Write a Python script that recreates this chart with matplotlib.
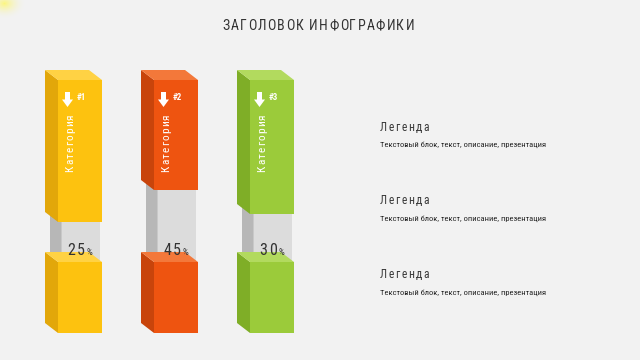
import matplotlib.pyplot as plt
from matplotlib.patches import Polygon
from matplotlib import font_manager
import numpy as np

# --- data ---
title = 'ЗАГОЛОВОК ИНФОГРАФИКИ'
categories = ['Категория', 'Категория', 'Категория']
tags = ['#1', '#2', '#3']
values = [25, 45, 30]
legend_titles = ['Легенда', 'Легенда', 'Легенда']
legend_texts = ['Текстовый блок, текст, описание, презентация'] * 3

front_cols = ['#FDC20F', '#EE5410', '#9BCB3A']
side_cols = ['#E2A70A', '#C8440B', '#7FAE27']
top_cols = ['#FFD244', '#F3783A', '#B2DA5E']
gray_front = '#DCDCDC'
gray_side = '#B7B7B7'
bg = '#F2F2F2'

names = {f.name for f in font_manager.fontManager.ttflist}
family = next((n for n in ['Roboto Condensed', 'Liberation Sans Narrow', 'Open Sans Condensed']
               if n in names), 'Roboto')

fig = plt.figure(figsize=(6.4, 3.6), dpi=100)
fig.patch.set_facecolor(bg)
ax = fig.add_axes([0, 0, 1, 1])
ax.set_xlim(0, 640)
ax.set_ylim(360, 0)
ax.axis('off')


def advances(s, size, weight='normal'):
    # glyph advances in pixels (1 axis unit = 1 px)
    fp = font_manager.FontProperties(family=family, weight=weight)
    font = font_manager.get_font(font_manager.findfont(fp))
    font.set_size(size, 72)
    out = []
    for ch in s:
        g = font.load_char(ord(ch))
        out.append(g.linearHoriAdvance / 65536 * 100 / 72)
    return out


def spaced(x, y, s, size, color, width=None, track=0.0, ha='center', rot=False, weight='normal'):
    adv = advances(s, size, weight)
    if width is not None and len(s) > 1:
        track = (width - sum(adv)) / (len(s) - 1)
    total = sum(adv) + track * (len(s) - 1)
    pos = -total / 2 if ha == 'center' else 0.0
    for ch, a in zip(s, adv):
        if rot:
            ax.text(x, y - pos, ch, rotation=90, rotation_mode='anchor', ha='left',
                    va='baseline', fontsize=size, color=color, family=family, weight=weight,
                    zorder=4)
        else:
            ax.text(x + pos, y, ch, ha='left', va='baseline', fontsize=size,
                    color=color, family=family, weight=weight, zorder=4)
        pos += a + track
    return total


def box(x0, x1, ytop, ybot, dx, dy, fc, sc, tc, z):
    ax.add_patch(Polygon([(x0, ytop), (x0 - dx, ytop - dy), (x0 - dx, ybot - dy), (x0, ybot)],
                         closed=True, fc=sc, ec='none', zorder=z))
    ax.add_patch(Polygon([(x0, ytop), (x1, ytop), (x1 - dx, ytop - dy), (x0 - dx, ytop - dy)],
                         closed=True, fc=tc, ec='none', zorder=z))
    ax.add_patch(Polygon([(x0, ytop), (x1, ytop), (x1, ybot), (x0, ybot)],
                         closed=True, fc=fc, ec='none', zorder=z))


# faint yellow glow in the corner
yy, xx = np.mgrid[0:24, 0:34]
r = np.sqrt(((xx - 4) / 22.0) ** 2 + ((yy - 3) / 16.0) ** 2)
glow = np.zeros((24, 34, 4))
glow[..., 0] = 1.0
glow[..., 1] = 0.97
glow[..., 2] = 0.35
glow[..., 3] = np.clip(1 - r, 0, 1) ** 2 * 0.75
ax.imshow(glow, extent=[0, 34, 24, 0], zorder=0, interpolation='bilinear')
ax.set_xlim(0, 640)
ax.set_ylim(360, 0)
ax.set_aspect('auto')

# title
spaced(318, 30.5, title, 10, '#333333', width=192)

# columns
top_y, lower_top, bottom = 80, 262, 333
dx, dy = 13, 10
for i, (cat, tag, v) in enumerate(zip(categories, tags, values)):
    x0 = 58 + 96 * i
    x1 = x0 + 44
    upper_bot = lower_top - 1.6 * v
    # gray middle part
    box(x0 + 3.7, x0 + 42, upper_bot - 12, lower_top, 11.7, dy, gray_front, gray_side, gray_front, 2)
    box(x0, x1, top_y, upper_bot, dx, dy, front_cols[i], side_cols[i], top_cols[i], 3)
    box(x0, x1, lower_top, bottom, dx, dy, front_cols[i], side_cols[i], top_cols[i], 3)

    # arrow icon + tag
    cx = x0 + 9.5
    ax.add_patch(Polygon([(cx - 2.5, 92), (cx + 2.5, 92), (cx + 2.5, 99.5), (cx + 5.5, 99.5),
                          (cx, 107), (cx - 5.5, 99.5), (cx - 2.5, 99.5)],
                         closed=True, fc='white', ec='none', zorder=4))
    ax.text(x0 + 19, 99.5, tag, fontsize=6.5, color='white', weight='bold',
            family=family, ha='left', va='baseline', zorder=4)

    # rotated category label
    spaced(x0 + 15.5, 172, cat, 8.2, 'white', width=58, ha='left', rot=True)

    # percentage label
    dsize, psize, trk = 11.5, 6.5, 1.8
    dig = str(v)
    dadv = advances(dig, dsize)
    padv = advances('%', psize)[0]
    total = sum(dadv) + trk * (len(dig) - 1) + 1.5 + padv
    gx = (x0 + 3.7 + x0 + 42) / 2 - 1
    start = gx - total / 2
    w = spaced(start, 255, dig, dsize, '#333333', track=trk, ha='left')
    ax.text(start + w + 1.5, 255, '%', fontsize=psize, color='#333333', family=family,
            ha='left', va='baseline', zorder=4)

# legends
for j, (lt, lx) in enumerate(zip(legend_titles, legend_texts)):
    base = 130.7 + 73.7 * j
    spaced(380, base, lt, 8.4, '#3a3a3a', width=49, ha='left')
    ax.text(380, base + 16.5, lx, fontsize=6.1, color='#262626', family=family,
            ha='left', va='baseline')

fig.savefig('out.png', dpi=100, facecolor=bg)
